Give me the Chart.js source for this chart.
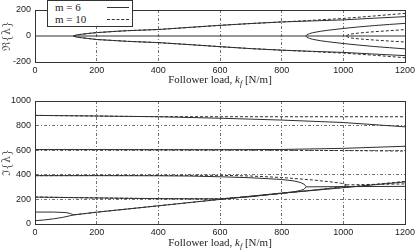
<!DOCTYPE html>
<html>
<head>
<meta charset="utf-8">
<script src="https://cdn.jsdelivr.net/npm/chart.js@4/dist/chart.umd.min.js"></script>
<style>
  html, body { margin: 0; padding: 0; background: #fff; }
  #wrap { position: relative; width: 419px; height: 250px; overflow: hidden; }
  #re { position: absolute; left: 0; top: 0; }
  #im { position: absolute; left: 0; top: 90px; }
  .xtitle { position: absolute; left: 35px; width: 370px; text-align: center; font: 11px "Liberation Serif", serif; color: #222; white-space: nowrap; }
  .xtitle sub { font-size: 8px; }
  #legend { position: absolute; left: 47px; top: 0; width: 84px; height: 25px; border: 1px solid #333; background: #fff; font: 11px "Liberation Serif", serif; color: #222; }
  #legend .row { position: absolute; left: 7px; height: 12px; line-height: 12px; }
  #legend .sample { position: absolute; left: 59px; width: 22px; height: 0; }
</style>
</head>
<body>
<div id="wrap">
  <canvas id="re" width="419" height="90"></canvas>
  <canvas id="im" width="419" height="160"></canvas>
  <div class="xtitle" style="top: 73px;">Follower load, <i>k<sub>f</sub></i> [N/m]</div>
  <div class="xtitle" style="top: 236px;">Follower load, <i>k<sub>f</sub></i> [N/m]</div>
  <div id="legend">
    <div class="row" style="top: 0px;">m = 6</div>
    <div class="sample" style="top: 6px; border-top: 1px solid #333;"></div>
    <div class="row" style="top: 12px;">m = 10</div>
    <div class="sample" style="top: 18px; border-top: 1px dashed #333;"></div>
  </div>
</div>
<script>
// real parts (upper plot)
const kFlat = [0, 1200];
const reFlat = [0, 0];

const kFlutter1 = [125, 135, 150, 175, 200, 250, 300, 400, 500, 600, 700, 800, 900, 1000, 1100, 1200];
const reFlutter1M6 = [0, 8, 13, 20, 26, 34, 41, 50, 66, 82, 96, 108, 116, 124, 137, 149];
const reFlutter1M6Low = [0, -8, -13, -20, -27, -34, -41, -51, -66, -82, -97, -109, -118, -126, -139, -151];
const reFlutter1M10 = [0, 8, 13, 20, 26, 34, 41, 50, 66, 82, 96, 108, 121, 135, 154, 174];
const reFlutter1M10Low = [0, -8, -13, -20, -27, -34, -41, -51, -66, -82, -97, -109, -120, -132, -148, -167];

const kFlutter2M6 = [878, 882, 890, 900, 925, 950, 1000, 1050, 1100, 1150, 1200];
const reFlutter2M6 = [0, 10, 18, 25, 36, 44, 58, 70, 80, 89, 97];
const reFlutter2M6Low = [0, -10, -18, -25, -36, -44, -58, -70, -81, -90, -99];

const kFlutter2M10 = [1010, 1015, 1025, 1050, 1100, 1150, 1200];
const reFlutter2M10 = [0, 9, 15, 23, 33, 41, 49];
const reFlutter2M10Low = [0, -9, -15, -22, -31, -39, -46];

// imaginary parts (lower plot)
const kEven = [0, 200, 400, 600, 800, 1000, 1200];
const imA6 = [883, 878, 872, 860, 845, 825, 790];
const kA10 = [0, 200, 275, 400, 600, 800, 1000, 1200];
const imA10 = [883, 878, 875, 873, 872, 872, 872, 872];
const imB6 = [605, 605, 604, 604, 606, 615, 632];
const imB10 = [605, 605, 604, 603, 600, 597, 593];

const kC6 = [0, 200, 400, 500, 600, 700, 800, 840, 860, 872, 880];
const imC6 = [393, 393, 392, 390, 384, 376, 362, 350, 338, 325, 302];
const kF6 = [0, 200, 400, 600, 700, 800, 840, 860, 872, 880];
const imF6 = [219, 212, 206, 204, 222, 250, 262, 272, 282, 302];
const kPair2M6 = [880, 950, 1000, 1100, 1200];
const imPair2M6 = [302, 303, 304, 305, 306];

const kC10 = [0, 200, 400, 600, 700, 800, 900, 960, 990, 1002, 1010];
const imC10 = [393, 394, 395, 396, 390, 378, 358, 342, 333, 326, 318];
const kF10 = [0, 200, 400, 600, 800, 900, 960, 990, 1002, 1010];
const imF10 = [219, 212, 206, 204, 248, 275, 292, 302, 309, 318];
const kPair2M10 = [1010, 1100, 1200];
const imPair2M10 = [318, 322, 326];

const kD = [0, 30, 60, 90, 110, 125];
const imD = [27, 33, 42, 54, 65, 74];
const kE = [0, 60, 100, 115, 125];
const imE = [97, 97, 93, 85, 74];
const kPair1 = [125, 200, 400, 600, 800, 1000, 1200];
const imPair1M6 = [74, 96, 148, 200, 250, 295, 342];
const imPair1M10 = [74, 96, 148, 200, 252, 298, 346];

const ink = '#2e2e2e';
const gridColor = '#707070';
const tickFont = { family: 'Liberation Sans', size: 9 };

function line (xs, ys, dashed) {
  return {
    data: xs.map((x, i) => ({ x, y: ys[i] })),
    showLine: true,
    pointRadius: 0,
    borderColor: ink,
    borderWidth: 1,
    borderDash: dashed ? [3, 2] : []
  };
}

const frame = {
  id: 'frame',
  afterDraw (chart) {
    const { ctx, chartArea: a } = chart;
    ctx.save();
    ctx.strokeStyle = '#333';
    ctx.lineWidth = 1;
    ctx.strokeRect(Math.round(a.left) + 0.5, Math.round(a.top) + 0.5, Math.round(a.right - a.left), Math.round(a.bottom - a.top));
    ctx.restore();
  }
};

function xScale (height) {
  return {
    type: 'linear',
    min: 0,
    max: 1200,
    ticks: { stepSize: 200, padding: 3, font: tickFont, color: '#222', maxRotation: 0, callback: v => String(v) },
    grid: { color: gridColor, drawTicks: false, lineWidth: 1 },
    border: { color: '#333', dash: [3, 2, 1, 2] },
    afterFit: s => { s.height = height; }
  };
}

function yScale (min, max, title, showGrid) {
  return {
    min,
    max,
    ticks: { stepSize: 200, padding: 4, font: tickFont, color: '#222', callback: v => String(v) },
    grid: { display: showGrid, color: gridColor, drawTicks: false, lineWidth: 1 },
    border: { color: '#333', dash: [3, 2, 1, 2] },
    title: { display: true, text: title, color: '#555', font: { family: 'DejaVu Serif', size: 11 }, padding: { top: 1, bottom: 0 } },
    afterFit: s => { s.width = 35; }
  };
}

const common = {
  responsive: false,
  animation: false,
  plugins: { legend: { display: false }, tooltip: { enabled: false } }
};

// eslint-disable-next-line no-undef
new Chart('re', {
  type: 'scatter',
  data: {
    datasets: [
      line(kFlat, reFlat, false),
      line(kFlutter1, reFlutter1M10, true),
      line(kFlutter1, reFlutter1M10Low, true),
      line(kFlutter2M10, reFlutter2M10, true),
      line(kFlutter2M10, reFlutter2M10Low, true),
      line(kFlutter1, reFlutter1M6, false),
      line(kFlutter1, reFlutter1M6Low, false),
      line(kFlutter2M6, reFlutter2M6, false),
      line(kFlutter2M6, reFlutter2M6Low, false)
    ]
  },
  options: {
    ...common,
    layout: { padding: { top: 10, right: 14, left: 0, bottom: 0 } },
    scales: { x: xScale(28), y: yScale(-200, 200, 'ℜ{λ}', false) }
  },
  plugins: [frame]
});

// eslint-disable-next-line no-undef
new Chart('im', {
  type: 'scatter',
  data: {
    datasets: [
      line(kA10, imA10, true),
      line(kEven, imB10, true),
      line(kC10, imC10, true),
      line(kF10, imF10, true),
      line(kPair2M10, imPair2M10, true),
      line(kPair1, imPair1M10, true),
      line(kEven, imA6, false),
      line(kEven, imB6, false),
      line(kC6, imC6, false),
      line(kF6, imF6, false),
      line(kPair2M6, imPair2M6, false),
      line(kD, imD, false),
      line(kE, imE, false),
      line(kPair1, imPair1M6, false)
    ]
  },
  options: {
    ...common,
    layout: { padding: { top: 11, right: 14, left: 0, bottom: 0 } },
    scales: { x: xScale(26), y: yScale(0, 1000, 'ℑ{λ}', true) }
  },
  plugins: [frame]
});
</script>
</body>
</html>
